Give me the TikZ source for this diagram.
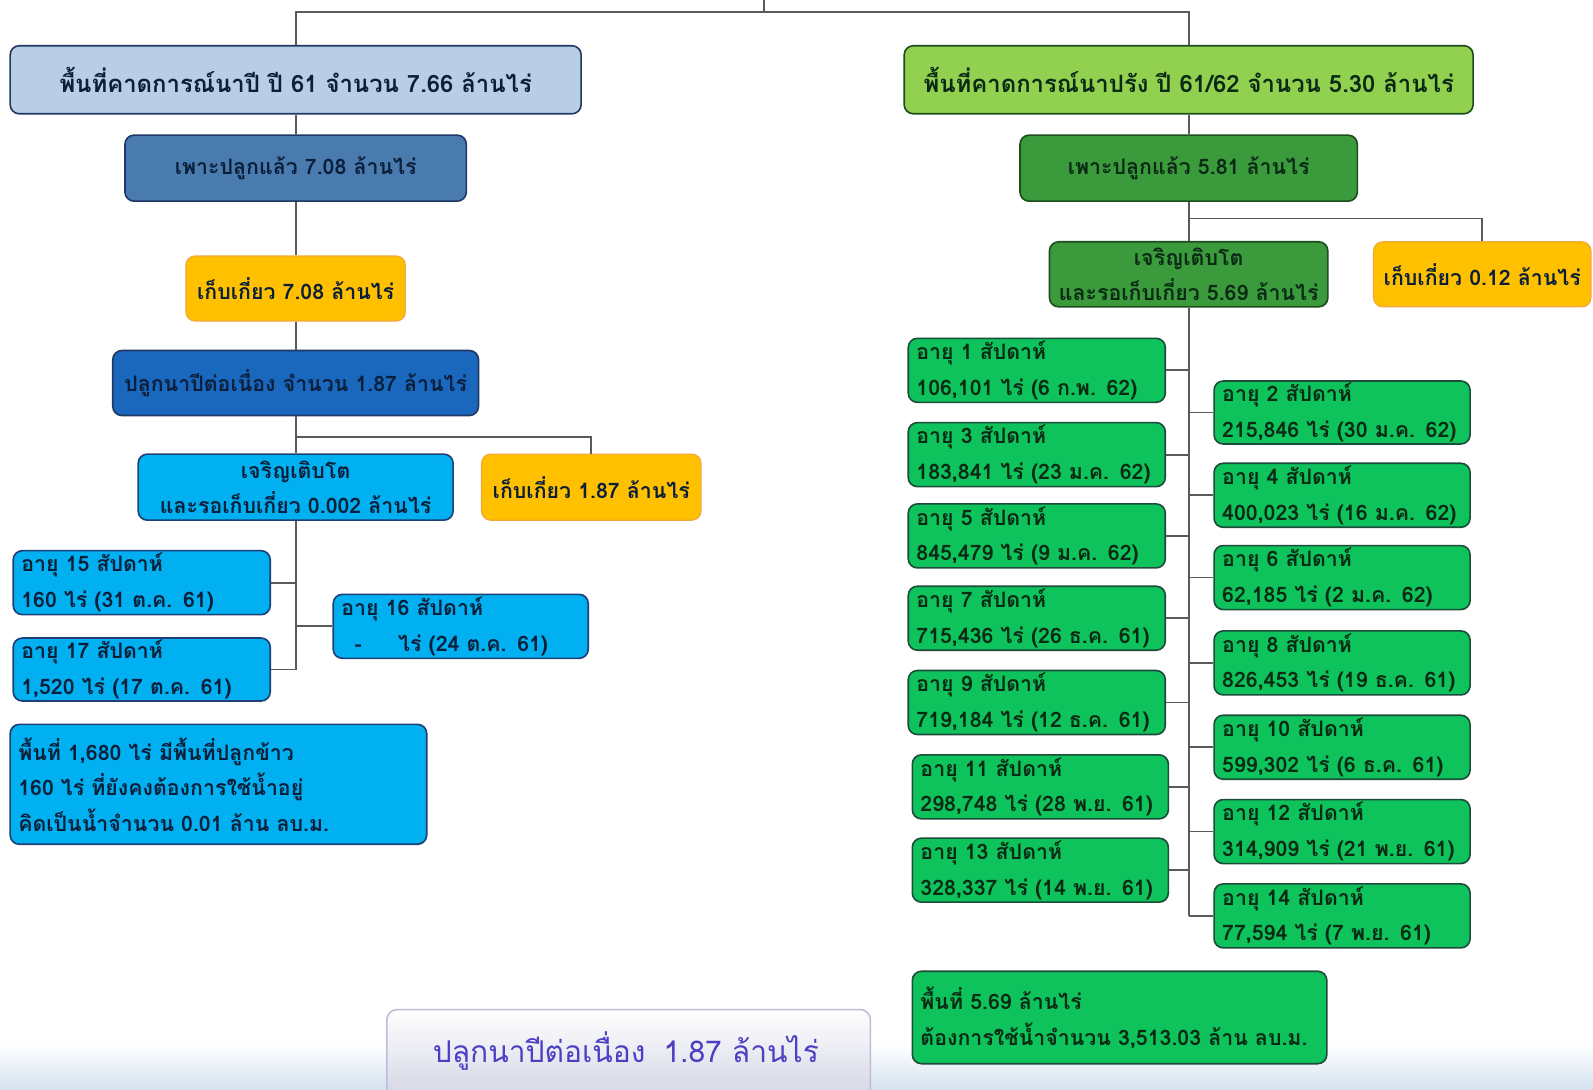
\documentclass[tikz,border=0pt]{standalone}
\usepackage{fontspec}
\newfontfamily\thai[Script=Thai]{Loma}
\definecolor{connc}{HTML}{5A5A5A}
\definecolor{lbfill}{HTML}{B9CDE5}
\definecolor{navy}{HTML}{1F3864}
\definecolor{steel}{HTML}{4A7BAE}
\definecolor{gold}{HTML}{FFC000}
\definecolor{goldb}{HTML}{F2A93B}
\definecolor{midblue}{HTML}{1A67BE}
\definecolor{sky}{HTML}{00B0F0}
\definecolor{skyb}{HTML}{1F3F77}
\definecolor{lgreen}{HTML}{92D050}
\definecolor{dgreen}{HTML}{3A9A3C}
\definecolor{greenb}{HTML}{1E4D1E}
\definecolor{agegreen}{HTML}{0EC25C}
\definecolor{ageb}{HTML}{1D4D3A}
\definecolor{txtb}{HTML}{0B1F3A}
\definecolor{txtg}{HTML}{0A2A14}
\definecolor{btntxt}{HTML}{4B3FC4}
\definecolor{btnb}{HTML}{BDBDDA}
\definecolor{bandc}{HTML}{D5E3F0}
\tikzset{
  conn/.style={draw=connc, line width=1.7pt},
  box/.style={draw, rounded corners=9pt, line width=1.6pt, inner xsep=8pt, inner ysep=0pt,
    font=\thai\bfseries\fontsize{21}{35}\selectfont, align=center},
  bigfont/.style={font=\thai\bfseries\fontsize{23.5}{30}\selectfont},
  topleft/.style={box, bigfont, fill=lbfill, draw=navy, text=txtb},
  steelbox/.style={box, fill=steel, draw=navy, text=txtb},
  goldbox/.style={box, fill=gold, draw=goldb, line width=1.2pt, text=txtb},
  midbox/.style={box, fill=midblue, draw=navy, text=txtb},
  skybox/.style={box, fill=sky, draw=skyb, text=txtb},
  skyage/.style={skybox, align=left},
  topright/.style={box, bigfont, fill=lgreen, draw=greenb, text=txtg},
  dgbox/.style={box, fill=dgreen, draw=greenb, text=txtg},
  agebox/.style={box, fill=agegreen, draw=ageb, text=txtg, align=left},
  button/.style={draw=btnb, line width=1.5pt, rounded corners=10pt, top color=white, bottom color=black!4!btnb!60!white, inner sep=0pt},
  btnfont/.style={font=\thai\fontsize{29.5}{32}\selectfont, text=btntxt, inner sep=0pt}
}
\newcommand\mybox[7]{%
  \pgfmathsetmacro\bw{#5-#3}%
  \pgfmathsetmacro\bh{#6-#4}%
  \pgfmathsetmacro\tw{#5-#3-16}%
  \node[#2, minimum width=\bw pt, minimum height=\bh pt, text width=\tw pt] (#1) at ({(#3+#5)/2},{(#4+#6)/2}) {#7};}
\begin{document}
\begin{tikzpicture}[x=1pt,y=-1pt]
\useasboundingbox (0,0) rectangle (1568,1072);
\clip (0,0) rectangle (1568,1072);
\fill[white] (0,0) rectangle (1568,1072);
% bottom band
\shade[top color=white, bottom color=bandc] (0,1028) rectangle (1568,1072);
\draw[white!85!bandc, line width=1pt] (0,1028) -- (1568,1028);

% left column
\mybox{L1}{topleft}{10}{45}{572}{112}{พื้นที่คาดการณ์นาปี ปี 61 จำนวน 7.66 ล้านไร่}
\mybox{L2}{steelbox}{123}{133}{459}{198}{เพาะปลูกแล้ว 7.08 ล้านไร่}
\mybox{L3}{goldbox}{183}{252}{399}{316}{เก็บเกี่ยว 7.08 ล้านไร่}
\mybox{L4}{midbox}{111}{345}{471}{409}{ปลูกนาปีต่อเนื่อง จำนวน 1.87 ล้านไร่}
\mybox{L5}{skybox}{136}{447}{446}{512}{เจริญเติบโต\\และรอเก็บเกี่ยว 0.002 ล้านไร่}
\mybox{L6}{goldbox}{474}{447}{690}{512}{เก็บเกี่ยว 1.87 ล้านไร่}
\mybox{L7}{skyage}{13}{542}{266}{605}{อายุ 15 สัปดาห์\\160 ไร่ (31 ต.ค. 61)}
\mybox{L8}{skyage}{328}{585}{579}{648}{อายุ 16 สัปดาห์\\\hspace*{13pt}-\hspace*{36pt}ไร่ (24 ต.ค. 61)}
\mybox{L9}{skyage}{13}{628}{266}{690}{อายุ 17 สัปดาห์\\1,520 ไร่ (17 ต.ค. 61)}
\mybox{L10}{skyage}{10}{713}{420}{831}{พื้นที่ 1,680 ไร่ มีพื้นที่ปลูกข้าว\\160 ไร่ ที่ยังคงต้องการใช้น้ำอยู่\\คิดเป็นน้ำจำนวน 0.01 ล้าน ลบ.ม.}

% right column
\mybox{R1}{topright}{890}{45}{1450}{112}{พื้นที่คาดการณ์นาปรัง ปี 61/62 จำนวน 5.30 ล้านไร่}
\mybox{R2}{dgbox}{1004}{133}{1336}{198}{เพาะปลูกแล้ว 5.81 ล้านไร่}
\mybox{R3}{dgbox}{1033}{238}{1307}{302}{เจริญเติบโต\\และรอเก็บเกี่ยว 5.69 ล้านไร่}
\mybox{R4}{goldbox}{1352}{238}{1566}{302}{เก็บเกี่ยว 0.12 ล้านไร่}

\mybox{A1}{agebox}{894}{333}{1147}{396}{อายุ 1 สัปดาห์\\106,101 ไร่ (6 ก.พ. 62)}
\mybox{A3}{agebox}{894}{416}{1147}{479}{อายุ 3 สัปดาห์\\183,841 ไร่ (23 ม.ค. 62)}
\mybox{A5}{agebox}{894}{496}{1147}{559}{อายุ 5 สัปดาห์\\845,479 ไร่ (9 ม.ค. 62)}
\mybox{A7}{agebox}{894}{577}{1147}{640}{อายุ 7 สัปดาห์\\715,436 ไร่ (26 ธ.ค. 61)}
\mybox{A9}{agebox}{894}{660}{1147}{723}{อายุ 9 สัปดาห์\\719,184 ไร่ (12 ธ.ค. 61)}
\mybox{A11}{agebox}{898}{743}{1150}{806}{อายุ 11 สัปดาห์\\298,748 ไร่ (28 พ.ย. 61)}
\mybox{A13}{agebox}{898}{825}{1150}{888}{อายุ 13 สัปดาห์\\328,337 ไร่ (14 พ.ย. 61)}

\mybox{A2}{agebox}{1195}{375}{1447}{437}{อายุ 2 สัปดาห์\\215,846 ไร่ (30 ม.ค. 62)}
\mybox{A4}{agebox}{1195}{456}{1447}{519}{อายุ 4 สัปดาห์\\400,023 ไร่ (16 ม.ค. 62)}
\mybox{A6}{agebox}{1195}{537}{1447}{600}{อายุ 6 สัปดาห์\\62,185 ไร่ (2 ม.ค. 62)}
\mybox{A8}{agebox}{1195}{621}{1447}{684}{อายุ 8 สัปดาห์\\826,453 ไร่ (19 ธ.ค. 61)}
\mybox{A10}{agebox}{1195}{704}{1447}{767}{อายุ 10 สัปดาห์\\599,302 ไร่ (6 ธ.ค. 61)}
\mybox{A12}{agebox}{1195}{787}{1447}{850}{อายุ 12 สัปดาห์\\314,909 ไร่ (21 พ.ย. 61)}
\mybox{A14}{agebox}{1195}{870}{1447}{933}{อายุ 14 สัปดาห์\\77,594 ไร่ (7 พ.ย. 61)}

\mybox{RS}{agebox}{898}{956}{1306}{1047}{พื้นที่ 5.69 ล้านไร่\\ต้องการใช้น้ำจำนวน 3,513.03 ล้าน ลบ.ม.}

% bottom button
\node[button, minimum width=476pt, minimum height=90pt, anchor=north west] (btn) at (380,993) {};
\node[btnfont] (btntext) at (616,1034) {ปลูกนาปีต่อเนื่อง\hspace{0.6em}1.87 ล้านไร่};

% connectors
\coordinate (top) at (752,0);
\coordinate (bar) at (752,12);
\draw[conn] (top) -- (bar);
\draw[conn] (bar) -| (L1.north);
\draw[conn] (bar) -| (R1.north);
\draw[conn] (L1) -- (L2);
\draw[conn] (L2) -- (L3);
\draw[conn] (L3) -- (L4);
\draw[conn] (L4) -- (L5);
\coordinate (j1) at (291,430);
\draw[conn] (j1) -| (L6.north);
\draw[conn] (L5.south) -- (L5.south |- L9.east);
\draw[conn] (L7.east) -- (L7.east -| L5.south);
\draw[conn] (L9.east) -- (L9.east -| L5.south);
\draw[conn] (L8.west) -- (L8.west -| L5.south);

\draw[conn] (R1) -- (R2);
\draw[conn] (R2) -- (R3);
\coordinate (j2) at (1170,215);
\draw[conn] (j2) -| (R4.north);
\draw[conn] (R3.south) -- (R3.south |- A14.west);
\foreach \a in {A1,A3,A5,A7,A9,A11,A13}{\draw[conn] (\a.east) -- (\a.east -| R3.south);}
\foreach \a in {A2,A4,A6,A8,A10,A12,A14}{\draw[conn] (\a.west) -- (\a.west -| R3.south);}
\end{tikzpicture}
\end{document}
